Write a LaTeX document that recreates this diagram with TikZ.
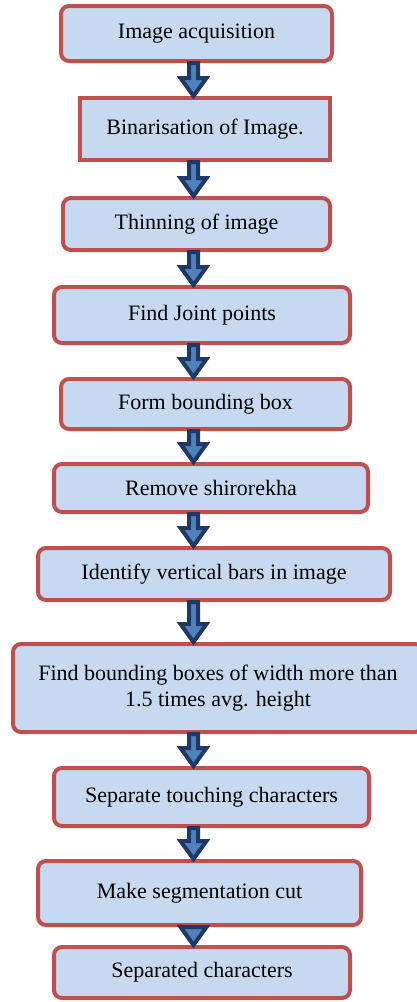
\documentclass[tikz,border=0pt]{standalone}
\usepackage{fontspec}
\setmainfont{Liberation Serif}
\usetikzlibrary{calc}
\definecolor{boxblue}{RGB}{198,217,240}
\definecolor{boxred}{RGB}{192,80,77}
\definecolor{arrdark}{RGB}{31,56,100}
\definecolor{arrfill}{RGB}{79,129,189}
\tikzset{
  stepbox/.style={draw=boxred, fill=boxblue, line width=4pt, rounded corners=8pt,
    inner sep=0pt, align=center, font=\fontsize{22}{26}\selectfont},
  flowarr/.style={draw=arrdark, fill=arrfill, line width=4pt, line join=miter}
}
% block arrow from the bottom of one step to the top of the next
\newcommand\flowarrow[2]{%
  \path[flowarr] let \p1=(#1.south -| axis), \p2=(#2.north -| axis) in
    (\x1-4.5pt,\y1) -- (\x1-4.5pt,\y2+18pt) -- (\x1-13pt,\y2+18pt) -- (\x1,\y2)
    -- (\x1+13pt,\y2+18pt) -- (\x1+4.5pt,\y2+18pt) -- (\x1+4.5pt,\y1) -- cycle;}
\begin{document}
\begin{tikzpicture}[x=1pt,y=-1pt]
\useasboundingbox (0,0) rectangle (417,1002);
\coordinate (axis) at (193.5,0);

\node[stepbox, minimum width=271pt, minimum height=55pt] (b1) at (196.5,33.5) {Image acquisition};
\node[stepbox, sharp corners, minimum width=250pt, minimum height=62pt] (b2) at (205,129) {Binarisation of Image.};
\node[stepbox, minimum width=267pt, minimum height=52pt] (b3) at (196.5,224) {Thinning of image};
\node[stepbox, minimum width=296pt, minimum height=56pt] (b4) at (202,315) {Find Joint points};
\node[stepbox, minimum width=289pt, minimum height=50pt] (b5) at (205.5,404) {Form bounding box};
\node[stepbox, minimum width=314pt, minimum height=48pt] (b6) at (211,488) {Remove shirorekha};
\node[stepbox, minimum width=352pt, minimum height=52pt] (b7) at (214,574) {Identify vertical bars in image};
\node[stepbox, minimum width=410pt, minimum height=88pt] (b8) at (218,688) {Find bounding boxes of width more than\\1.5 times avg. height};
\node[stepbox, minimum width=315pt, minimum height=58pt] (b9) at (211.5,797) {Separate touching characters};
\node[stepbox, minimum width=323pt, minimum height=64pt] (b10) at (199.5,893) {Make segmentation cut};
\node[stepbox, minimum width=296pt, minimum height=51pt] (b11) at (202,972.5) {Separated characters};

\flowarrow{b1}{b2}
\flowarrow{b2}{b3}
\flowarrow{b3}{b4}
\flowarrow{b4}{b5}
\flowarrow{b5}{b6}
\flowarrow{b6}{b7}
\flowarrow{b7}{b8}
\flowarrow{b8}{b9}
\flowarrow{b9}{b10}
\flowarrow{b10}{b11}
\end{tikzpicture}
\end{document}
